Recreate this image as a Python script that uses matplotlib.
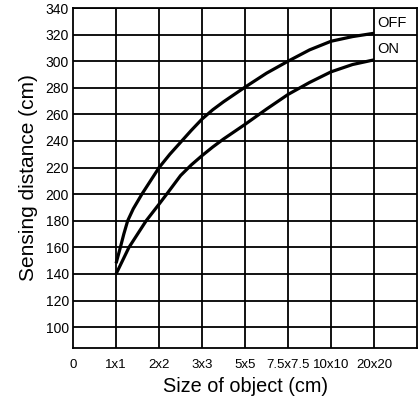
import matplotlib
matplotlib.use("Agg")
import matplotlib.pyplot as plt
import numpy as np

# x categories (object size) on an even spacing
size_labels = ["0", "1x1", "2x2", "3x3", "5x5", "7.5x7.5", "10x10", "20x20"]
y_ticks = list(range(100, 341, 20))

# curves (x in category index units)
off_x = [1.0, 1.05, 1.1, 1.18, 1.27, 1.4, 1.6, 1.8, 2.0, 2.25, 2.5, 2.75, 3.0, 3.25, 3.5, 4.0, 4.5, 5.0, 5.5, 6.0, 6.5, 7.0]
off_y = [148, 154, 160, 170, 180, 189, 200, 210, 220, 230, 239, 248, 256.5, 263.5, 269.5, 280.5, 291, 300, 308.5, 315, 318.5, 321]
on_x = [1.0, 1.15, 1.3, 1.5, 1.7, 2.0, 2.2, 2.5, 2.75, 3.0, 3.25, 3.5, 4.0, 4.5, 5.0, 5.5, 6.0, 6.5, 7.0]
on_y = [140, 150, 160, 170, 180, 192.5, 201, 214, 222, 229, 235.5, 241.5, 252.5, 264, 275, 284, 292, 297.5, 301]

plt.rcParams['font.family'] = ['Liberation Sans', 'DejaVu Sans']

fig = plt.figure(figsize=(4.2, 4.0), dpi=100)
ax = fig.add_axes([0.174, 0.13, 0.819, 0.85])

ax.plot(off_x, off_y, color='black', lw=2.3, solid_capstyle='butt')
ax.plot(on_x, on_y, color='black', lw=2.3, solid_capstyle='butt')

ax.set_xlim(0, 8)
ax.set_ylim(84.3, 340)
ax.set_xticks(range(len(size_labels)))
ax.set_xticklabels(size_labels, fontsize=9.5)
ax.set_yticks(y_ticks)
ax.set_yticklabels([str(v) for v in y_ticks], fontsize=10)
ax.tick_params(length=0, pad=3)
ax.tick_params(axis='x', pad=8)

# grid: every category line and every 20 cm
for xv in range(1, 8):
    ax.axvline(xv, color='black', lw=1.3, zorder=1)
for yv in y_ticks:
    ax.axhline(yv, color='black', lw=1.3, zorder=1)
for s in ax.spines.values():
    s.set_linewidth(1.3)

ax.text(7.08, 329, "OFF", fontsize=10.5, va='center', ha='left')
ax.text(7.08, 309.5, "ON", fontsize=10.5, va='center', ha='left')

ax.set_xlabel("Size of object (cm)", fontsize=14.3, labelpad=4)
ax.set_ylabel("Sensing distance (cm)", fontsize=15, labelpad=5)

fig.savefig("out.png", dpi=100)
